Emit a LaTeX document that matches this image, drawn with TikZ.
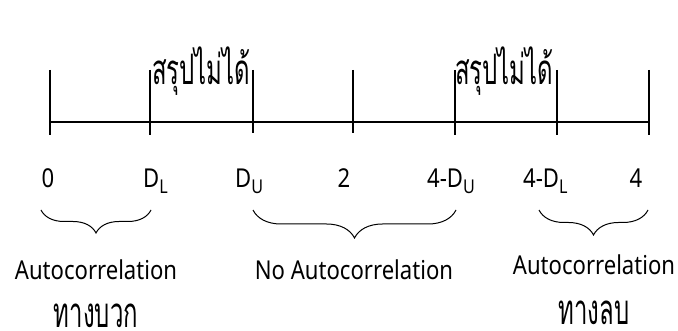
\documentclass[tikz,border=0pt]{standalone}
\usepackage{fontspec}
\setmainfont[FakeStretch=0.85]{Noto Sans}
\newfontfamily\thaifont[Script=Thai,FakeStretch=0.57]{Loma}
\usetikzlibrary{decorations.pathreplacing}
\newcommand{\mysub}[1]{\raisebox{-0.22em}{\fontsize{19}{20}\selectfont #1}}
\begin{document}
\begin{tikzpicture}[x=1pt,y=-1pt,
  tick/.style={line width=1.2pt},
  axis/.style={line width=1.2pt},
  lbl/.style={font=\fontsize{26}{28}\selectfont, inner sep=0pt, anchor=base},
  thai/.style={font=\thaifont\fontsize{42}{44}\selectfont, inner sep=0pt, anchor=base, text depth=0pt},
  brc/.style={decorate, decoration={brace, mirror, amplitude=#1}, line width=1pt}]
\useasboundingbox[fill=white] (0,0) rectangle (678,331);
% ticks
\foreach \n/\x/\t/\b in {t0/50/70/135, t1/150/70/135, t2/253/70/133, t3/353/70/133, t4/455/70/135, t5/557/70/135, t6/649/70/135}{
  \coordinate (\n top) at (\x,\t);
  \coordinate (\n bot) at (\x,\b);
  \draw[tick] (\n top) -- (\n bot);
}
\coordinate (axL) at (50,122);
\coordinate (axR) at (649,122);
\draw[axis] (axL) -- (axR);
% inconclusive labels
\node[thai, anchor=base west] (inc1) at (152,85) {สรุปไม่ได้};
\node[thai, anchor=base west] (inc2) at (455,85) {สรุปไม่ได้};
% values
\node[lbl] (v0) at (48,188) {0};
\node[lbl, anchor=base west] (vDL) at (143,188) {D\mysub{L}};
\node[lbl, anchor=base west] (vDU) at (235,188) {D\mysub{U}};
\node[lbl] (v2) at (344,188) {2};
\node[lbl, anchor=base west] (v4DU) at (427,188) {4-D\mysub{U}};
\node[lbl, anchor=base west] (v4DL) at (523,188) {4-D\mysub{L}};
\node[lbl] (v4) at (636,188) {4};
% braces
\coordinate (b1l) at (41,210);
\coordinate (b1r) at (151,210);
\coordinate (b2l) at (253,210);
\coordinate (b2r) at (456,210);
\coordinate (b3l) at (539,210);
\coordinate (b3r) at (648,210);
\draw[brc=23pt] (b1l) -- (b1r);
\draw[brc=28pt] (b2l) -- (b2r);
\draw[brc=25pt] (b3l) -- (b3r);
% captions
\node[lbl] (c1) at (96,280) {Autocorrelation};
\node[lbl] (c2) at (354,280) {No Autocorrelation};
\node[lbl] (c3) at (594,275) {Autocorrelation};
\node[thai] (c1t) at (96,327) {ทางบวก};
\node[thai] (c3t) at (594,324) {ทางลบ};
\end{tikzpicture}
\end{document}
